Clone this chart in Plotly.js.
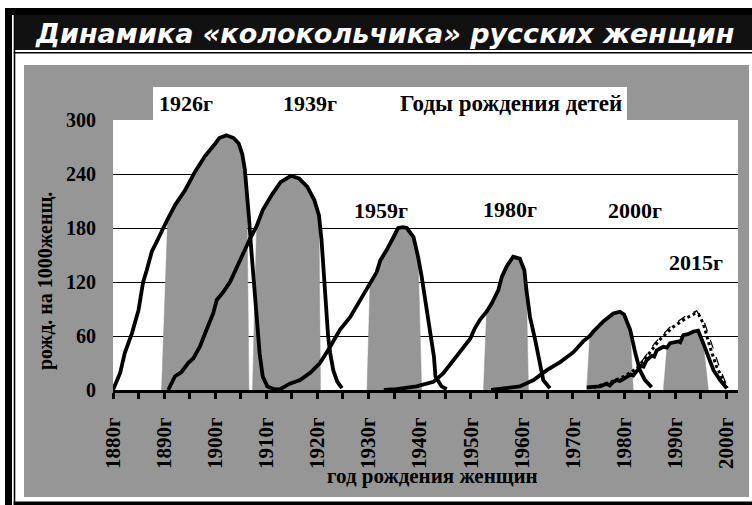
<!DOCTYPE html>
<html>
<head>
<meta charset="utf-8">
<script src="https://cdn.plot.ly/plotly-3.0.1.min.js"></script>
<style>html,body{margin:0;padding:0;background:#fff;}#chart{width:752px;height:505px;}</style>
</head>
<body>
<div id="chart"></div>
<script>
// ---- data ----
const yr1926 = [1880, 1881.4, 1882.3, 1883.7, 1885, 1885.9, 1886.6, 1887.6, 1888.4, 1889.5, 1890.7, 1892.2, 1894.1, 1896, 1898, 1899.9, 1900.8, 1902.2, 1903.6, 1904.6, 1905.3, 1905.8, 1906.2, 1906.6, 1907, 1907.4, 1907.8, 1908.2, 1908.7, 1909.3, 1910.2, 1911.5, 1912.7];
const val1926 = [0, 19, 41, 63, 89, 120, 133, 154, 163, 177, 190, 206, 222, 242, 260, 273, 280, 283, 280, 274, 262, 245, 222, 192, 160, 130, 100, 70, 40, 15, 4, 1, 0];

const yr1939 = [1890.8, 1892.1, 1893.4, 1894.7, 1895.7, 1897, 1898.3, 1899.6, 1900.3, 1901.6, 1902.9, 1904.2, 1905.5, 1906.8, 1908.1, 1909.3, 1911.2, 1912.8, 1914.8, 1916.4, 1918, 1919.4, 1920.3, 1920.8, 1921.2, 1921.7, 1922.1, 1922.5, 1923.1, 1923.9, 1924.8];
const val1939 = [0, 15, 20, 30, 35, 48, 67, 85, 100, 109, 120, 137, 152, 168, 182, 200, 218, 231, 238, 235, 226, 211, 194, 167, 130, 93, 59, 41, 22, 9, 2];

const yr1959 = [1911.5, 1912.7, 1914.6, 1916.6, 1918.6, 1920.5, 1922.5, 1924.4, 1926.4, 1928.3, 1930.3, 1931.6, 1932.3, 1933.6, 1934.9, 1935.8, 1936.7, 1937.5, 1938.8, 1939.7, 1940.4, 1941.2, 1942.2, 1942.8, 1943.1, 1944.3, 1945.3];
const val1959 = [0, 1, 7, 11, 19, 30, 48, 67, 81, 100, 119, 131, 144, 156, 170, 180, 181, 180, 170, 148, 126, 98, 64, 37, 15, 4, 1];

const yr1980 = [1933, 1935.5, 1939.4, 1942.7, 1944.6, 1946.6, 1947.9, 1949.9, 1950.8, 1951.8, 1953.1, 1954.1, 1955.4, 1956.1, 1957, 1958.3, 1959.6, 1960.5, 1960.9, 1961.6, 1962.6, 1963.6, 1964.2, 1965.5];
const val1980 = [0, 1, 4, 9, 18.5, 33, 43, 57, 68.5, 78, 87, 96, 111, 126, 137, 148, 146, 133, 111, 81, 56, 26, 11, 2];

const yr2000 = [1954, 1956.4, 1959.6, 1962.3, 1964.9, 1967.5, 1970.1, 1972, 1973.3, 1974, 1975.9, 1977.9, 1979.2, 1980, 1981.2, 1982.2, 1983.1, 1984.1, 1985.4];
const val2000 = [0, 2, 4, 11, 22, 31, 42, 54, 60, 65, 76, 85, 87, 84, 67, 41, 22, 11, 3];

const yr2015 = [1972.7, 1975.3, 1976.6, 1977.2, 1977.9, 1978.6, 1979.2, 1980.5, 1981.3, 1981.8, 1982.5, 1983.3, 1983.8, 1984.4, 1985.4, 1985.9, 1986.4, 1987.7, 1988.4, 1989, 1990.6, 1991, 1991.6, 1992.5, 1993.6, 1994.5, 1995.5, 1996.5, 1997.5, 1998.8, 2000.1];
const val2015 = [3, 4, 7, 5, 9, 11, 10, 15, 17, 16, 22, 27, 26, 33, 38, 37, 44, 48, 47, 52, 54, 53, 61, 62, 65, 66, 52, 37, 22, 11, 2];

const yr2015dot = [1974, 1977, 1980, 1982.5, 1984.4, 1987, 1989.6, 1992.2, 1993.9, 1994.6, 1995.5, 1996.8, 1998.1, 1999.7, 2000.2];
const val2015dot = [3, 8, 15, 24, 37, 56, 70, 80, 85, 84, 74, 48, 26, 7, 2];

const yr2015dash = [1983.5, 1986, 1989, 1992, 1994.2, 1995.8, 1997.1, 1998.4, 2000];
const val2015dash = [32, 52, 70, 82, 88, 74, 52, 30, 6];

// shaded windows (years) under each curve
const shadeRanges = [[1889.5, 1906.6], [1907.3, 1920.6], [1929.7, 1940.4], [1952.5, 1961.3], [1972.7, 1981.8], [1987.7, 1996.5]];

const birthLabels = ['1926г', '1939г', '1959г', '1980г', '2000г', '2015г'];
const legendTitle = 'Годы рождения детей';
const xTickVals = [1880, 1890, 1900, 1910, 1920, 1930, 1940, 1950, 1960, 1970, 1980, 1990, 2000];
const xTickText = ['1880г', '1890г', '1900г', '1910г', '1920г', '1930г', '1940г', '1950г', '1960г', '1970г', '1980г', '1990г', '2000г'];
const yTickVals = [0, 60, 120, 180, 240, 300];
const yTickText = ['0', '60', '120', '180', '240', '300'];
const chartTitle = 'Динамика «колокольчика» русских женщин';
const xTitle = 'год рождения женщин';
const yTitle = 'рожд. на 1000женщ.';

// ---- build ----
const series = [[yr1926, val1926], [yr1939, val1939], [yr1959, val1959], [yr1980, val1980], [yr2000, val2000], [yr2015, val2015]];

const traces = [];
shadeRanges.forEach(function (r, k) {
  const xs = series[k][0], ys = series[k][1];
  const sx = [r[0]], sy = [0];
  xs.forEach(function (x, i) { if (x >= r[0] + 0.5 && x <= r[1] - 0.3) { sx.push(x); sy.push(ys[i]); } });
  sx.push(r[1]); sy.push(0);
  traces.push({x: sx, y: sy, type: 'scatter', mode: 'lines', fill: 'tozeroy', fillcolor: '#969696', line: {color: '#969696', width: 0.5}});
});
series.forEach(function (s) {
  traces.push({x: s[0], y: s[1], type: 'scatter', mode: 'lines', line: {color: '#000', width: 3.8}});
});
traces.push({x: yr2015dash, y: val2015dash, type: 'scatter', mode: 'lines', line: {color: '#000', width: 1.2, dash: 'dash'}});
traces.push({x: yr2015dot, y: val2015dot, type: 'scatter', mode: 'lines', line: {color: '#000', width: 3, dash: 'dot'}});

// pixel -> paper helpers (plot area 113..738 x 120..390)
const L = 113, R = 738, T = 120, B = 390;
function px(x) { return (x - L) / (R - L); }
function py(y) { return (B - y) / (B - T); }
function rect(x0, y0, x1, y1, color, layer) {
  return {type: 'rect', xref: 'paper', yref: 'paper', x0: px(x0), x1: px(x1), y0: py(y1), y1: py(y0), fillcolor: color, line: {width: 0}, layer: layer || 'below'};
}

const serif = 'Liberation Serif, Times New Roman, serif';
function ann(text, x, y, size, extra) {
  return Object.assign({text: text, xref: 'paper', yref: 'paper', x: px(x), y: py(y), showarrow: false, xanchor: 'center', yanchor: 'middle',
    font: {family: serif, size: size, color: '#000', weight: 'bold'}}, extra || {});
}

const labelPos = [[186, 103], [310, 103], [381, 210], [510, 209], [635, 210], [696, 262]];
const annotations = birthLabels.map(function (t, i) { return ann(t, labelPos[i][0], labelPos[i][1], 22); });
annotations.push(ann(legendTitle, 624, 103, 23, {xanchor: 'right'}));
annotations.push(ann(xTitle, 432, 476, 21));
annotations.push(ann(yTitle, 45, 281, 20, {textangle: -90}));
annotations.push(ann(chartTitle, 384, 33, 27, {font: {family: 'DejaVu Sans, sans-serif', size: 27, color: '#fff', weight: 'bold', style: 'italic'}}));

const G = '#969696';
const shapes = [
  // grey chart panel around the white plot area
  rect(24, 65, 749, T, G, 'below'),
  rect(24, B, 749, 497, G, 'below'),
  rect(24, T, L, B, G, 'below'),
  rect(R, T, 749, B, G, 'below'),
  // frame and title band
  rect(5, 8, 752, 15, '#000', 'below'),
  rect(5, 8, 12, 505, '#000', 'below'),
  rect(13.7, 15, 15.3, 505, '#000', 'below'),
  rect(15, 15, 752, 50, '#111', 'below'),
  rect(13.7, 52, 752, 53.5, '#000', 'below'),
  rect(13.7, 501.5, 752, 505, '#000', 'below'),
  // white box holding the labels
  rect(153, 87, 627, 121, '#fff', 'above')
];

const layout = {
  width: 752, height: 505,
  margin: {l: L, r: 752 - R, t: T, b: 505 - B, pad: 0},
  paper_bgcolor: '#fff', plot_bgcolor: '#fff',
  showlegend: false,
  xaxis: {
    range: [1880, 2002.3], tickmode: 'array', tickvals: xTickVals, ticktext: xTickText, tickangle: -90,
    ticks: 'outside', ticklen: 6, tickwidth: 3, tickcolor: '#000',
    minor: {dtick: 5, tick0: 1880, ticks: 'outside', ticklen: 6, tickwidth: 3, tickcolor: '#000', showgrid: false},
    showline: true, linewidth: 3, linecolor: '#000', showgrid: false, zeroline: false,
    tickfont: {family: serif, size: 21, color: '#000', weight: 'bold'}, ticklabelstandoff: 10
  },
  yaxis: {
    range: [0, 300], tickmode: 'array', tickvals: yTickVals, ticktext: yTickText,
    showgrid: true, gridcolor: '#000', gridwidth: 1, zeroline: false, showline: false, ticks: '',
    tickfont: {family: serif, size: 20, color: '#000', weight: 'bold'}, ticklabelstandoff: 16
  },
  shapes: shapes,
  annotations: annotations
};

Plotly.newPlot('chart', traces, layout, {staticPlot: true, displayModeBar: false});
</script>
</body>
</html>
